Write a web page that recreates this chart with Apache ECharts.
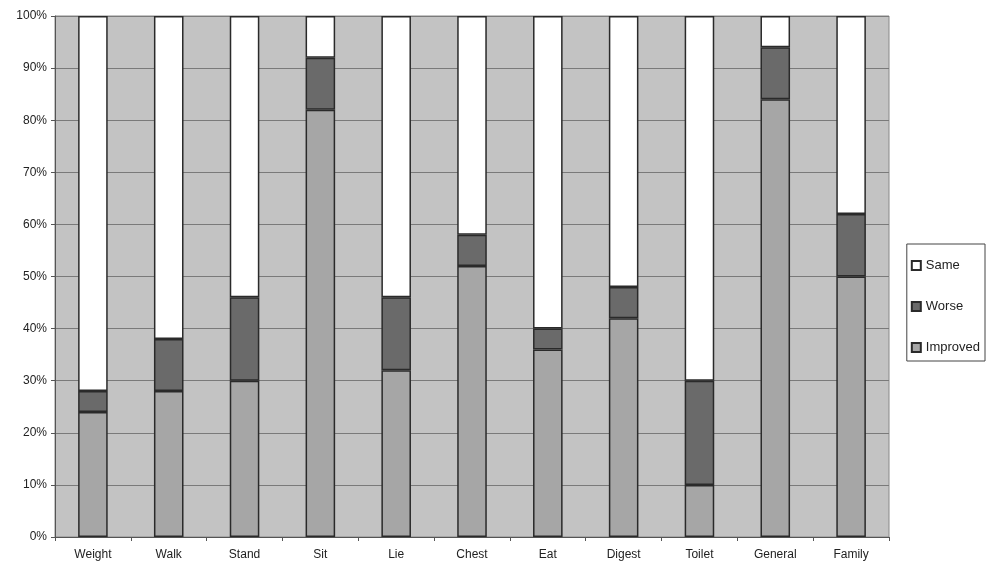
<!DOCTYPE html>
<html>
<head>
<meta charset="utf-8">
<script src="https://cdn.jsdelivr.net/npm/echarts@6/dist/echarts.min.js"></script>
<style>html,body{margin:0;padding:0;background:#fff}#c{width:997px;height:581px}</style>
</head>
<body>
<div id="c"></div>
<script>
var categories = ['Weight','Walk','Stand','Sit','Lie','Chest','Eat','Digest','Toilet','General','Family'];
var improved = [24, 28, 30, 82, 32, 52, 36, 42, 10, 84, 50];
var worse    = [4, 10, 16, 10, 14, 6, 4, 6, 20, 10, 12];
var same     = [72, 62, 54, 8, 54, 42, 60, 52, 70, 6, 38];
var yTicks = [0,10,20,30,40,50,60,70,80,90,100];

var chart = echarts.init(document.getElementById('c'), null, {renderer:'canvas'});
function s(name, data, color){
  return {name:name, type:'bar', stack:'t', data:data, barWidth:'39%',
    itemStyle:{color:color, borderColor:'#2a2a2a', borderWidth:1.5}};
}
chart.setOption({
  animation:false,
  textStyle:{fontFamily:'Liberation Sans, Arial, sans-serif'},
  grid:{left:55, right:108, top:16, bottom:44, show:true, backgroundColor:'#c3c3c3', borderColor:'#888', borderWidth:1},
  legend:{
    data:['Same','Worse','Improved'], orient:'vertical', right:12, top:244,
    itemWidth:9, itemHeight:9, itemGap:28, padding:[15,5,7,4],
    borderColor:'#444', borderWidth:1, backgroundColor:'#fff',
    textStyle:{fontSize:13, color:'#222', fontFamily:'Liberation Sans, Arial, sans-serif'},
    icon:'rect'
  },
  xAxis:{type:'category', data:categories, boundaryGap:true,
    axisLine:{lineStyle:{color:'#555', width:1}},
    axisTick:{show:true, length:4, lineStyle:{color:'#555'}},
    axisLabel:{fontSize:12, color:'#222', margin:12}},
  yAxis:{type:'value', min:0, max:100, interval:10,
    axisLine:{show:true, lineStyle:{color:'#555'}},
    axisTick:{show:true, length:4, lineStyle:{color:'#555'}},
    axisLabel:{fontSize:12, color:'#222', formatter:function(v){return v+'%';}, margin:8},
    splitLine:{lineStyle:{color:'#7a7a7a', width:1}}},
  series:[
    s('Improved', improved, '#a6a6a6'),
    s('Worse', worse, '#6a6a6a'),
    s('Same', same, '#ffffff')
  ]
});
</script>
</body>
</html>
